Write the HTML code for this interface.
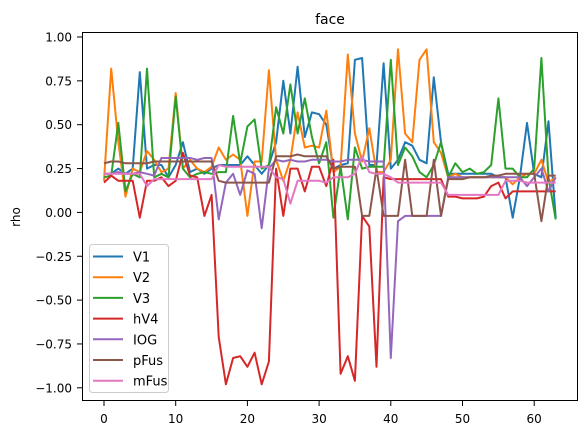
<!DOCTYPE html>
<html><head><meta charset="utf-8"><style>
html,body{margin:0;padding:0;background:#fff;}
svg{display:block;font-family:"DejaVu Sans","Liberation Sans",sans-serif;}
</style></head><body>
<svg id="chart" width="587" height="435" viewBox="0 0 587 435">
<rect x="0" y="0" width="587" height="435" fill="#fff"/>
<text x="330" y="24" font-size="14" text-anchor="middle">face</text>
<text transform="translate(20,217) rotate(-90)" font-size="12" text-anchor="middle">rho</text>
<g id="ticks"></g>
<g id="series"></g>
<rect x="82.5" y="32.5" width="495" height="368" fill="none" stroke="#000" stroke-width="1"/>
<g id="legend"></g>
</svg>
<script>
const xTicks = [0,10,20,30,40,50,60];
const yTicks = [1.00,0.75,0.50,0.25,0.00,-0.25,-0.50,-0.75,-1.00];
const yTickLabels = ["1.00","0.75","0.50","0.25","0.00","−0.25","−0.50","−0.75","−1.00"];
const seriesNames = ["V1","V2","V3","hV4","IOG","pFus","mFus"];
const seriesColors = ["#1f77b4","#ff7f0e","#2ca02c","#d62728","#9467bd","#8c564b","#e377c2"];
const V1 = [0.22,0.22,0.25,0.22,0.25,0.80,0.25,0.27,0.27,0.20,0.27,0.40,0.23,0.25,0.22,0.25,0.27,0.27,0.27,0.27,0.32,0.27,0.22,0.27,0.40,0.75,0.45,0.83,0.43,0.57,0.56,0.50,0.25,0.27,0.28,0.87,0.88,0.27,0.27,0.85,0.25,0.30,0.40,0.38,0.30,0.28,0.77,0.40,0.22,0.22,0.22,0.22,0.22,0.22,0.22,0.20,0.20,-0.03,0.20,0.51,0.22,0.20,0.52,-0.03];
const V2 = [0.18,0.82,0.40,0.09,0.25,0.23,0.35,0.30,0.23,0.25,0.68,0.25,0.30,0.25,0.23,0.26,0.37,0.30,0.33,0.30,-0.02,0.29,0.29,0.81,0.30,0.18,0.30,0.57,0.37,0.38,0.37,0.58,0.23,0.26,0.90,0.45,0.29,0.48,0.23,0.23,0.30,0.93,0.45,0.40,0.87,0.93,0.40,0.34,0.20,0.22,0.20,0.20,0.20,0.20,0.20,0.20,0.20,0.16,0.20,0.22,0.22,0.30,0.17,0.20];
const V3 = [0.20,0.21,0.51,0.12,0.22,0.20,0.82,0.20,0.22,0.20,0.66,0.25,0.20,0.22,0.23,0.22,0.23,0.23,0.55,0.28,0.49,0.53,0.25,0.27,0.60,0.45,0.73,0.45,0.65,0.43,0.28,0.40,-0.03,0.26,-0.04,0.37,0.25,0.26,0.26,0.26,0.87,0.27,0.37,0.32,0.23,0.20,0.27,0.40,0.20,0.28,0.23,0.25,0.22,0.23,0.27,0.65,0.25,0.25,0.20,0.20,0.25,0.88,0.20,-0.04];
const hV4 = [0.17,0.21,0.18,0.18,0.18,-0.03,0.18,0.18,0.20,0.15,0.18,0.34,0.21,0.20,-0.02,0.10,-0.71,-0.98,-0.83,-0.82,-0.88,-0.80,-0.98,-0.85,0.25,-0.02,0.25,0.25,0.12,0.26,0.26,0.15,0.30,-0.92,-0.82,-0.96,-0.02,-0.08,-0.88,0.20,0.19,0.19,0.19,0.19,0.19,0.19,0.19,0.19,0.09,0.09,0.08,0.08,0.08,0.09,0.15,0.17,0.08,0.12,0.12,0.12,0.12,0.12,0.12,0.12];
const IOG = [0.22,0.22,0.23,0.22,0.22,0.23,0.22,0.21,0.31,0.31,0.31,0.31,0.31,0.30,0.31,0.31,-0.04,0.17,0.22,0.10,0.24,0.22,-0.09,0.25,0.30,0.29,0.30,0.29,0.29,0.30,0.30,0.30,0.29,0.29,0.30,0.30,0.30,0.29,0.29,0.29,-0.83,-0.05,-0.02,-0.02,-0.02,-0.02,-0.02,-0.02,0.20,0.20,0.20,0.20,0.20,0.20,0.20,0.20,0.20,0.20,0.20,0.15,0.20,0.25,0.12,0.20];
const pFus = [0.28,0.29,0.29,0.28,0.28,0.28,0.28,0.29,0.29,0.29,0.29,0.29,0.29,0.29,0.29,0.29,0.18,0.17,0.17,0.17,0.17,0.17,0.17,0.17,0.32,0.32,0.32,0.33,0.32,0.32,0.32,0.32,0.25,0.26,0.26,0.26,-0.02,-0.02,0.25,-0.02,-0.02,-0.02,0.30,-0.02,-0.02,-0.02,0.30,-0.02,0.19,0.19,0.19,0.20,0.20,0.20,0.21,0.21,0.22,0.22,0.22,0.22,0.22,-0.05,0.21,0.21];
const mFus = [0.22,0.22,0.22,0.22,0.22,0.22,0.15,0.19,0.19,0.19,0.19,0.19,0.19,0.19,0.19,0.19,0.27,0.26,0.26,0.26,0.26,0.26,0.26,0.26,0.20,0.19,0.05,0.18,0.18,0.18,0.18,0.17,0.20,0.20,0.20,0.22,0.32,0.23,0.22,0.22,0.20,0.17,0.17,0.17,0.17,0.17,0.17,0.17,0.10,0.10,0.10,0.10,0.10,0.10,0.10,0.10,0.18,0.18,0.18,0.17,0.17,0.17,0.17,0.17];
const seriesData = [V1,V2,V3,hV4,IOG,pFus,mFus];

const NS = "http://www.w3.org/2000/svg";
function xScale(i){ return 104 + i*7.17; }
function yScale(v){ return 212.4 - v*175.4; }

const tickG = document.getElementById('ticks');
xTicks.forEach(t=>{
  const x = xScale(t);
  const l = document.createElementNS(NS,'line');
  l.setAttribute('x1',x); l.setAttribute('x2',x); l.setAttribute('y1',401); l.setAttribute('y2',406);
  l.setAttribute('stroke','#000');
  
  
  tickG.appendChild(l);
  const tx = document.createElementNS(NS,'text');
  tx.setAttribute('x',x); tx.setAttribute('y',423); tx.setAttribute('font-size','12'); tx.setAttribute('text-anchor','middle');
  tx.textContent = t;
  
  
  tickG.appendChild(tx);
});
yTicks.forEach((t,k)=>{
  const y = yScale(t);
  const l = document.createElementNS(NS,'line');
  l.setAttribute('x1',77); l.setAttribute('x2',82); l.setAttribute('y1',y); l.setAttribute('y2',y);
  l.setAttribute('stroke','#000');
  
  
  tickG.appendChild(l);
  const tx = document.createElementNS(NS,'text');
  tx.setAttribute('x',72); tx.setAttribute('y',y+4.5); tx.setAttribute('font-size','12'); tx.setAttribute('text-anchor','end');
  tx.textContent = yTickLabels[k];
  
  
  tickG.appendChild(tx);
});

const sG = document.getElementById('series');
seriesData.forEach((d,s)=>{
  const p = document.createElementNS(NS,'polyline');
  p.setAttribute('points', d.map((v,i)=>xScale(i).toFixed(1)+','+yScale(v).toFixed(1)).join(' '));
  p.setAttribute('fill','none'); p.setAttribute('stroke',seriesColors[s]); p.setAttribute('stroke-width','2');
  p.setAttribute('stroke-linejoin','round');
  
  
  sG.appendChild(p);
});

const lg = document.getElementById('legend');
const box = document.createElementNS(NS,'rect');
box.setAttribute('x',89.5); box.setAttribute('y',244.5); box.setAttribute('width',79); box.setAttribute('height',148);
box.setAttribute('rx',3); box.setAttribute('fill','#fff'); box.setAttribute('fill-opacity','0.8'); box.setAttribute('stroke','#ccc');


lg.appendChild(box);
seriesNames.forEach((n,s)=>{
  const y = 256.5 + s*20.7;
  const l = document.createElementNS(NS,'line');
  l.setAttribute('x1',93); l.setAttribute('x2',123); l.setAttribute('y1',y); l.setAttribute('y2',y);
  l.setAttribute('stroke',seriesColors[s]); l.setAttribute('stroke-width','2');
  
  
  lg.appendChild(l);
  const t = document.createElementNS(NS,'text');
  t.setAttribute('x',133); t.setAttribute('y',y+5); t.setAttribute('font-size','13');
  t.textContent = n;
  
  
  lg.appendChild(t);
});
</script>
</body></html>
